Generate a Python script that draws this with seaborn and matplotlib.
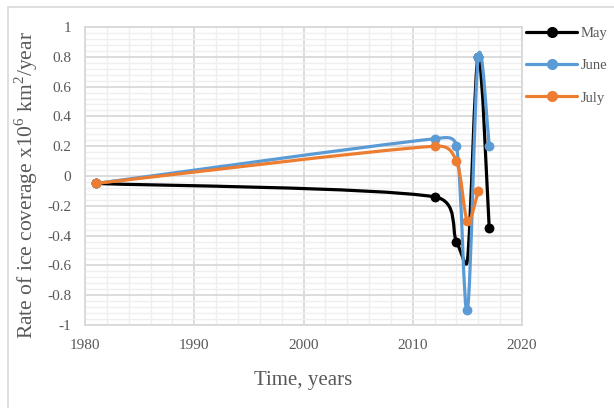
import numpy as np
import pandas as pd
import matplotlib
matplotlib.use("Agg")
import matplotlib.pyplot as plt
import seaborn as sns
from matplotlib.path import Path
from matplotlib.patches import PathPatch, Rectangle
from matplotlib.lines import Line2D
from matplotlib.ticker import MultipleLocator, FuncFormatter

# Datos
may_years = [1981, 2012, 2014, 2015, 2016, 2017]
may_vals = [-0.05, -0.14, -0.44, -0.57, 0.80, -0.35]
may_marker = [True, True, True, False, True, True]
june_years = [1981, 2012, 2014, 2015, 2016, 2017]
june_vals = [-0.05, 0.25, 0.20, -0.90, 0.80, 0.20]
june_marker = [True] * 6
july_years = [1981, 2012, 2014, 2015, 2016]
july_vals = [-0.05, 0.20, 0.10, -0.30, -0.10]
july_marker = [True] * 5

series = ["May", "June", "July"]
palette = {"May": "#000000", "June": "#5B9BD5", "July": "#ED7D31"}

df = pd.concat([
    pd.DataFrame({"Year": may_years, "Value": may_vals, "Mark": may_marker, "Month": "May"}),
    pd.DataFrame({"Year": june_years, "Value": june_vals, "Mark": june_marker, "Month": "June"}),
    pd.DataFrame({"Year": july_years, "Value": july_vals, "Mark": july_marker, "Month": "July"}),
])

sns.set_style("white")
plt.rcParams["font.family"] = ["Liberation Serif", "DejaVu Serif"]
plt.rcParams["mathtext.fontset"] = "custom"
plt.rcParams["mathtext.rm"] = "Liberation Serif"

fig = plt.figure(figsize=(6.14, 4.08), dpi=100)
ax = fig.add_axes([85 / 614, 1 - 325 / 408, 437 / 614, 298 / 408])
ax.set_xlim(1980, 2020)
ax.set_ylim(-1, 1)

# escala en píxeles para el suavizado tipo Excel
sx = 437 / 40
sy = 298 / 2


def smooth_path(xs, ys):
    p = np.column_stack([np.array(xs) * sx, np.array(ys) * sy])
    n = len(p)
    verts = [p[0]]
    codes = [Path.MOVETO]
    for i in range(n - 1):
        a, b = p[i], p[i + 1]
        seg = np.linalg.norm(b - a)
        da = (p[i + 1] - p[i - 1]) if i > 0 else (b - a)
        db = (p[i + 2] - p[i]) if i + 2 < n else (b - a)
        la = min(np.linalg.norm(da) / 6, seg * 0.5)
        lb = min(np.linalg.norm(db) / 6, seg * 0.5)
        c1 = a + da / np.linalg.norm(da) * la
        c2 = b - db / np.linalg.norm(db) * lb
        verts += [c1, c2, b]
        codes += [Path.CURVE4] * 3
    verts = np.array(verts) / [sx, sy]
    return Path(verts, codes)


for i, name in enumerate(series):
    sub = df[df["Month"] == name]
    patch = PathPatch(smooth_path(sub["Year"].values, sub["Value"].values),
                      facecolor="none", edgecolor=palette[name], lw=2.3,
                      zorder=3 + i * 2, capstyle="round", joinstyle="round")
    ax.add_patch(patch)
    sns.scatterplot(data=sub[sub["Mark"]], x="Year", y="Value", color=palette[name], s=50,
                    edgecolor=palette[name], linewidth=0, zorder=4 + i * 2,
                    ax=ax, legend=False)

# Rejilla
ax.xaxis.set_major_locator(MultipleLocator(10))
ax.xaxis.set_minor_locator(MultipleLocator(2))
ax.yaxis.set_major_locator(MultipleLocator(0.2))
ax.yaxis.set_minor_locator(MultipleLocator(0.04))
ax.grid(True, which="major", color="#d9d9d9", lw=1.3, zorder=0)
ax.grid(True, which="minor", color="#efefef", lw=1.0, zorder=0)
ax.set_axisbelow(True)
for s in ax.spines.values():
    s.set_color("#d9d9d9")
    s.set_linewidth(1.3)
ax.yaxis.set_major_formatter(FuncFormatter(lambda v, p: f"{round(v, 1):g}"))
ax.tick_params(which="both", length=0, labelsize=11, colors="#595959")
ax.tick_params(axis="x", pad=10)
ax.tick_params(axis="y", pad=10)

ax.set_xlabel("Time, years", fontsize=15, color="#595959")
ax.xaxis.set_label_coords(0.5, -0.155)
ax.set_ylabel(r"Rate of ice coverage x10$^{6}$ km$^{2}$/year", fontsize=15.5,
              color="#595959")
ax.yaxis.set_label_coords(-0.103, 0.47)

handles = [Line2D([0], [0], color=palette[n], lw=2.3, marker="o", markersize=7)
           for n in series]
fig.legend(handles, series, loc="upper left", bbox_to_anchor=(526 / 614, 1 - 27 / 408),
           frameon=False, fontsize=10.5, labelcolor="#595959", handlelength=3.5,
           handletextpad=0.25, labelspacing=1.3, borderaxespad=0, borderpad=0)

# Borde del área del gráfico
fig.patches.append(Rectangle((8 / 614, -0.05), 1.0, 1 - 7 / 408 + 0.05,
                             transform=fig.transFigure, fill=False,
                             edgecolor="#d9d9d9", lw=1.2))

fig.savefig("out.png", dpi=100)
